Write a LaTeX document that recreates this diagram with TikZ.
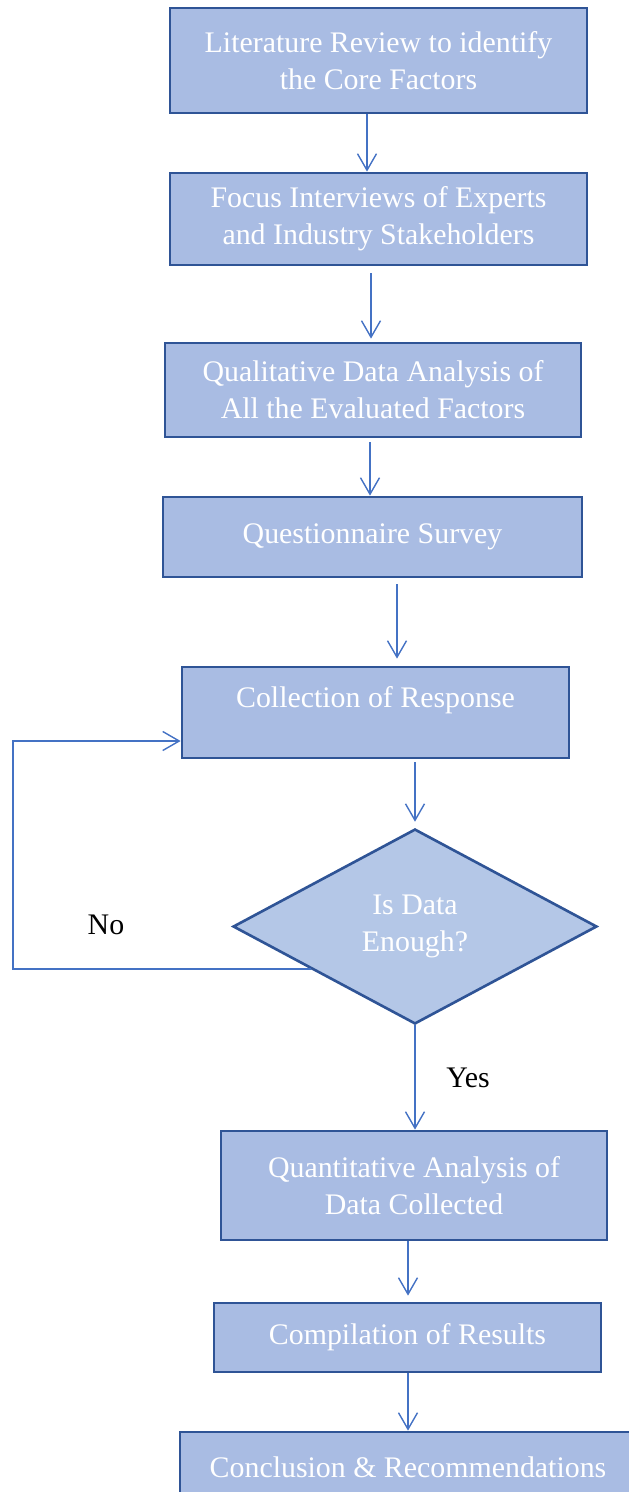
\documentclass[tikz,border=0pt]{standalone}
\usepackage{fontspec}
\setmainfont{Liberation Serif}
\usetikzlibrary{shapes.geometric,arrows.meta,calc,positioning}

\definecolor{boxfill}{HTML}{A9BCE3}
\definecolor{diafill}{HTML}{B4C7E7}
\definecolor{boxline}{HTML}{2F5496}
\definecolor{arrline}{HTML}{4472C4}

\tikzset{
	stage/.style={draw=boxline, fill=boxfill, line width=1.6pt, text=white, align=center, inner sep=0pt, font=\fontsize{17}{21}\selectfont},
	decision/.style={diamond, aspect=1.87, draw=boxline, fill=diafill, line width=1.5pt, text=white, align=center, inner sep=0pt, font=\fontsize{17}{21}\selectfont},
	flow/.style={draw=arrline, line width=0.8pt, -{Straight Barb[length=0.33cm,width=0.38cm]}},
	answer/.style={text=black, font=\fontsize{17}{21}\selectfont}
}

\begin{document}
\begin{tikzpicture}[x=0.02cm,y=-0.02cm]
	\useasboundingbox (0,0) rectangle (629,1492);

	\node[stage, minimum width=8.34cm, minimum height=2.10cm]	(lit)	at (378.5,60.5)	{Literature Review to identify\\the Core Factors};
	\node[stage, minimum width=8.34cm, minimum height=1.84cm]	(focus)	at (378.5,219)	{Focus Interviews of Experts\\and Industry Stakeholders};
	\node[stage, minimum width=8.32cm, minimum height=1.88cm]	(qual)	at (373,390)	{Qualitative Data Analysis of\\All the Evaluated Factors};
	\node[stage, minimum width=8.38cm, minimum height=1.60cm]	(quest)	at (372.5,537)	{Questionnaire Survey};
	\node[stage, minimum width=7.74cm, minimum height=1.82cm, text depth=0.61cm]	(coll)	at (375.5,712.5)	{Collection of Response};
	\node[decision, minimum width=7.28cm, minimum height=3.90cm]	(dia)	at (415,926.5)	{Is Data\\Enough?};
	\node[stage, minimum width=7.72cm, minimum height=2.18cm]	(quant)	at (414,1185.5)	{Quantitative Analysis of\\Data Collected};
	\node[stage, minimum width=7.74cm, minimum height=1.38cm]	(comp)	at (407.5,1337.5)	{Compilation of Results};
	\node[stage, minimum width=9.12cm, minimum height=1.40cm]	(concl)	at (408,1467)	{Conclusion \& Recommendations};

	\node[answer]	(no)	at (106,925)	{No};
	\node[answer]	(yes)	at (468,1078)	{Yes};

	\draw[flow]	(lit.south -| 367,0)	-- (focus.north -| 367,0);
	\draw[flow, shorten <=0.14cm, shorten >=0.06cm]	(focus.south -| 371,0)	-- (qual.north -| 371,0);
	\draw[flow, shorten <=0.08cm]	(qual.south -| 370,0)	-- (quest.north -| 370,0);
	\draw[flow, shorten <=0.12cm, shorten >=0.14cm]	(quest.south -| 397,0)	-- (coll.north -| 397,0);
	\draw[flow, shorten <=0.06cm, shorten >=0.12cm]	(coll.south -| dia.north)	-- (dia.north);
	\draw[flow]	(dia.south)	-- (quant.north -| dia.south);
	\draw[flow, shorten >=0.12cm]	(quant.south -| 408,0)	-- (comp.north -| 408,0);
	\draw[flow]	(comp.south -| 408,0)	-- (concl.north -| 408,0);

	\coordinate	(nopt)	at ($(dia.west)!0.43!(dia.south)$);
	\coordinate	(loop)	at (13,741);
	\draw[flow]	(nopt) -| (loop) -- (coll.west |- loop);
\end{tikzpicture}
\end{document}
